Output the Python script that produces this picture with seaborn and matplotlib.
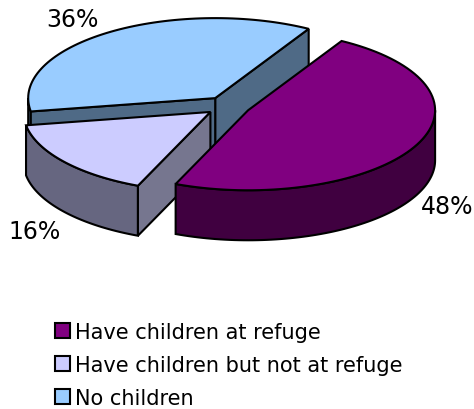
import numpy as np
import matplotlib
matplotlib.use("Agg")
import matplotlib.pyplot as plt
from matplotlib.patches import Polygon, Patch
import seaborn as sns

# ---- data ----
categories = ["Have children at refuge", "Have children but not at refuge", "No children"]
values = [48, 16, 36]
pct_labels = ["48%", "16%", "36%"]

# ---- style ----
sns.set_theme(style="white")
plt.rcParams['font.family'] = ['DejaVu Sans']
plt.rcParams['text.color'] = 'black'

top_colors = sns.color_palette(["#800080", "#CCCCFF", "#99CCFF"])
side_colors = sns.color_palette(["#400040", "#666680", "#4D6680"])
radial_colors = sns.color_palette(["#400040", "#76768F", "#4F6A86"])
label_nudge = [(-2, 3), (0, 9), (-15, 0)]   # small label adjustments (px)

W, H = 474, 410
fig = plt.figure(figsize=(W / 100, H / 100), dpi=100)
ax = fig.add_axes([0, 0, 1, 1])
ax.set_xlim(0, W)
ax.set_ylim(H, 0)
ax.axis('off')

cx, cy = 228, 107
rx, ry = 187, 80
depth = 50
explode = 0.12
start = 60.0   # degrees, slices run clockwise
lw = 1.5


def arc(t0, t1, ox, oy, dz=0, n=80):
    t = np.radians(np.linspace(t0, t1, n))
    return np.column_stack([ox + rx * np.cos(t), oy - ry * np.sin(t) + dz])


def add_poly(pts, fc):
    ax.add_patch(Polygon(pts, closed=True, facecolor=fc, edgecolor='black',
                         linewidth=lw, joinstyle='miter'))


# compute slice angles
slices = []
hi = start
for i, v in enumerate(values):
    span = 360.0 * v / sum(values)
    lo = hi - span
    slices.append((i, lo, hi))
    hi = lo

# drawing order: back to front
order = [2, 1, 0]
for i in order:
    _, lo, hi = slices[i]
    mid = np.radians((lo + hi) / 2)
    ox = cx + explode * rx * np.cos(mid)
    oy = cy - explode * ry * np.sin(mid)

    # curved outer wall (front-facing parts: sin t < 0)
    for k in range(-2, 2):
        a = max(lo, 180 + 360 * k)
        b = min(hi, 360 + 360 * k)
        if b > a:
            topa = arc(a, b, ox, oy)
            bota = arc(a, b, ox, oy, depth)[::-1]
            add_poly(np.vstack([topa, bota]), side_colors[i])

    # radial walls
    for ang, vis in ((lo, np.cos(np.radians(lo)) > 0), (hi, np.cos(np.radians(hi)) < 0)):
        if vis:
            t = np.radians(ang)
            px = ox + rx * np.cos(t)
            py = oy - ry * np.sin(t)
            add_poly([(ox, oy), (px, py), (px, py + depth), (ox, oy + depth)],
                     radial_colors[i])

    # top
    add_poly(np.vstack([[ox, oy], arc(lo, hi, ox, oy)]), top_colors[i])

    # percentage label
    lx = ox + 1.2 * rx * np.cos(mid) + label_nudge[i][0]
    ly = oy - 1.2 * ry * np.sin(mid) + (depth if np.sin(mid) < 0 else 0) + label_nudge[i][1]
    ax.text(lx, ly, pct_labels[i], ha='center', va='center', fontsize=17,
            color='black')

handles = [Patch(facecolor=top_colors[i], edgecolor='black', linewidth=1.5)
           for i in range(len(categories))]
leg = ax.legend(handles, categories, loc='upper left',
                bbox_to_anchor=(55 / W, 1 - 323 / H),
                frameon=False, fontsize=15, handlelength=0.72, handleheight=0.72,
                handletextpad=0.25, labelspacing=0.62, borderpad=0, borderaxespad=0)
for t in leg.get_texts():
    t.set_color('black')

fig.savefig("out.png", dpi=100)
